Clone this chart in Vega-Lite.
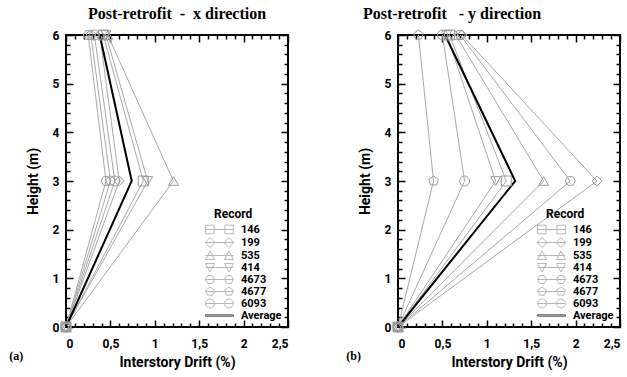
{
  "$schema": "https://vega.github.io/schema/vega-lite/v6.json",
  "padding": {"left": 8, "top": 5, "right": 5, "bottom": 3},
  "background": "white",
  "config": {
    "view": {"stroke": "black", "strokeWidth": 2},
    "axis": {"domain": false, "grid": false, "tickColor": "black", "tickWidth": 1.5, "labelColor": "black", "titleColor": "black",
      "labelFont": "Roboto", "titleFont": "Roboto",
      "labelFontWeight": "bold", "titleFontWeight": "bold", "labelFontSize": 12, "titleFontSize": 14},
    "legend": {"orient": "bottom-right", "offset": 6, "padding": 0, "rowPadding": -1, "labelOffset": 16, "symbolSize": 81, "symbolStrokeWidth": 1,
      "labelFont": "Roboto", "labelFontWeight": "bold", "labelFontSize": 11, "labelColor": "black",
      "titleFont": "Roboto", "titleFontWeight": "bold", "titleFontSize": 12, "titleColor": "black", "titlePadding": 3},
    "title": {"font": "Liberation Serif", "fontSize": 16, "fontWeight": "bold", "color": "black", "offset": 6}
  },
  "datasets": {
    "xdir": [
      {"Record": "146", "Drift": 0, "Height": 0}, {"Record": "146", "Drift": 0.87, "Height": 3}, {"Record": "146", "Drift": 0.42, "Height": 6},
      {"Record": "199", "Drift": 0, "Height": 0}, {"Record": "199", "Drift": 0.6, "Height": 3}, {"Record": "199", "Drift": 0.38, "Height": 6},
      {"Record": "535", "Drift": 0, "Height": 0}, {"Record": "535", "Drift": 1.21, "Height": 3}, {"Record": "535", "Drift": 0.47, "Height": 6},
      {"Record": "414", "Drift": 0, "Height": 0}, {"Record": "414", "Drift": 0.92, "Height": 3}, {"Record": "414", "Drift": 0.45, "Height": 6},
      {"Record": "4673", "Drift": 0, "Height": 0}, {"Record": "4673", "Drift": 0.45, "Height": 3}, {"Record": "4673", "Drift": 0.25, "Height": 6},
      {"Record": "4677", "Drift": 0, "Height": 0}, {"Record": "4677", "Drift": 0.5, "Height": 3}, {"Record": "4677", "Drift": 0.28, "Height": 6},
      {"Record": "6093", "Drift": 0, "Height": 0}, {"Record": "6093", "Drift": 0.55, "Height": 3}, {"Record": "6093", "Drift": 0.32, "Height": 6},
      {"Record": "Average", "Drift": 0, "Height": 0}, {"Record": "Average", "Drift": 0.74, "Height": 3}, {"Record": "Average", "Drift": 0.38, "Height": 6}
    ],
    "ydir": [
      {"Record": "146", "Drift": 0, "Height": 0}, {"Record": "146", "Drift": 1.22, "Height": 3}, {"Record": "146", "Drift": 0.58, "Height": 6},
      {"Record": "199", "Drift": 0, "Height": 0}, {"Record": "199", "Drift": 2.24, "Height": 3}, {"Record": "199", "Drift": 0.72, "Height": 6},
      {"Record": "535", "Drift": 0, "Height": 0}, {"Record": "535", "Drift": 1.64, "Height": 3}, {"Record": "535", "Drift": 0.65, "Height": 6},
      {"Record": "414", "Drift": 0, "Height": 0}, {"Record": "414", "Drift": 1.1, "Height": 3}, {"Record": "414", "Drift": 0.55, "Height": 6},
      {"Record": "4673", "Drift": 0, "Height": 0}, {"Record": "4673", "Drift": 1.94, "Height": 3}, {"Record": "4673", "Drift": 0.7, "Height": 6},
      {"Record": "4677", "Drift": 0, "Height": 0}, {"Record": "4677", "Drift": 0.4, "Height": 3}, {"Record": "4677", "Drift": 0.23, "Height": 6},
      {"Record": "6093", "Drift": 0, "Height": 0}, {"Record": "6093", "Drift": 0.75, "Height": 3}, {"Record": "6093", "Drift": 0.5, "Height": 6},
      {"Record": "Average", "Drift": 0, "Height": 0}, {"Record": "Average", "Drift": 1.32, "Height": 3}, {"Record": "Average", "Drift": 0.53, "Height": 6}
    ],
    "tagA": [{"label": "(a)"}],
    "tagB": [{"label": "(b)"}]
  },
  "spacing": 55,
  "resolve": {"scale": {"color": "independent", "shape": "independent"}, "legend": {"color": "independent", "shape": "independent"}},
  "hconcat": [
    {
      "width": 222, "height": 292,
      "title": {"text": "Post-retrofit\u00a0\u00a0-\u00a0\u00a0x direction"},
      "data": {"name": "xdir"},
      "resolve": {"axis": {"x": "independent", "y": "independent"}, "scale": {"shape": "independent", "color": "independent"}},
      "layer": [
        {
          "transform": [{"filter": "datum.Record !== 'Average'"}],
          "mark": {"type": "line", "color": "#a8a8a8", "strokeWidth": 1},
          "encoding": {
            "x": {"field": "Drift", "type": "quantitative", "scale": {"domain": [0, 2.5], "nice": false, "zero": false},
              "axis": {"orient": "bottom", "values": [0, 0.5, 1, 1.5, 2, 2.5], "format": "~g", "labelExpr": "replace(datum.label, '.', ',')", "tickSize": -7, "labelPadding": 18, "title": "Interstory Drift (%)", "titlePadding": 6}},
            "y": {"field": "Height", "type": "quantitative", "scale": {"domain": [0, 6], "nice": false, "zero": false},
              "axis": {"orient": "left", "values": [0, 1, 2, 3, 4, 5, 6], "tickSize": -7, "labelPadding": 14, "title": "Height (m)", "titlePadding": 12}},
            "detail": {"field": "Record"},
            "order": {"field": "Height"}
          }
        },
        {
          "transform": [{"filter": "datum.Record === 'Average'"}],
          "mark": {"type": "line", "color": "black", "strokeWidth": 2},
          "encoding": {
            "x": {"field": "Drift", "type": "quantitative", "axis": {"orient": "top", "values": [0, 0.5, 1, 1.5, 2, 2.5], "tickSize": -7, "labels": false, "title": null}},
            "y": {"field": "Height", "type": "quantitative", "axis": {"orient": "right", "values": [0, 1, 2, 3, 4, 5, 6], "tickSize": -7, "labels": false, "title": null}},
            "order": {"field": "Height"}
          }
        },
        {
          "transform": [{"filter": "datum.Record !== 'Average'"}],
          "mark": {"type": "point", "filled": false, "color": "#9a9a9a", "size": 100, "strokeWidth": 1, "opacity": 1},
          "encoding": {
            "x": {"field": "Drift", "type": "quantitative", "axis": {"orient": "bottom", "values": [0.1,0.2,0.3,0.4,0.6,0.7,0.8,0.9,1.1,1.2,1.3,1.4,1.6,1.7,1.8,1.9,2.1,2.2,2.3,2.4], "tickSize": -4, "labels": false, "title": null}},
            "y": {"field": "Height", "type": "quantitative", "axis": {"orient": "left", "values": [0.2,0.4,0.6,0.8,1.2,1.4,1.6,1.8,2.2,2.4,2.6,2.8,3.2,3.4,3.6,3.8,4.2,4.4,4.6,4.8,5.2,5.4,5.6,5.8], "tickSize": -4, "labels": false, "title": null}},
            "shape": {"field": "Record", "type": "nominal",
              "scale": {"domain": ["146", "199", "535", "414", "4673", "4677", "6093"],
                "range": ["square", "diamond", "triangle-up", "triangle-down", "M-1,0L-0.5,-0.866L0.5,-0.866L1,0L0.5,0.866L-0.5,0.866Z", "M0,-1L0.951,-0.309L0.588,0.809L-0.588,0.809L-0.951,-0.309Z", "circle"]},
              "legend": null}
          }
        },
        {
          "transform": [{"filter": "false"}],
          "mark": {"type": "point", "filled": false, "size": 81, "strokeWidth": 1},
          "encoding": {
            "x": {"field": "Drift", "type": "quantitative", "axis": {"orient": "top", "values": [0.1,0.2,0.3,0.4,0.6,0.7,0.8,0.9,1.1,1.2,1.3,1.4,1.6,1.7,1.8,1.9,2.1,2.2,2.3,2.4], "tickSize": -4, "labels": false, "title": null}},
            "y": {"field": "Height", "type": "quantitative", "axis": {"orient": "right", "values": [0.2,0.4,0.6,0.8,1.2,1.4,1.6,1.8,2.2,2.4,2.6,2.8,3.2,3.4,3.6,3.8,4.2,4.4,4.6,4.8,5.2,5.4,5.6,5.8], "tickSize": -4, "labels": false, "title": null}},
            "shape": {"field": "Record", "type": "nominal",
              "scale": {"domain": ["146", "199", "535", "414", "4673", "4677", "6093", "Average"],
                "range": [
                  "M-3.1,-0.95H-1.2V0.95H-3.1Z M1.2,-0.95H3.1V0.95H1.2Z M-3.1,0H3.1",
                  "M-3.2,0L-2.1,-1.1L-1,0L-2.1,1.1Z M1,0L2.1,-1.1L3.2,0L2.1,1.1Z M-3.2,0H3.2",
                  "M-3.1,0.9L-2.1,-1L-1.1,0.9Z M1.1,0.9L2.1,-1L3.1,0.9Z M-3.1,0H3.1",
                  "M-3.1,-0.9L-1.1,-0.9L-2.1,1Z M1.1,-0.9L3.1,-0.9L2.1,1Z M-3.1,0H3.1",
                  "M-3.1,0L-2.6,-0.87L-1.6,-0.87L-1.1,0L-1.6,0.87L-2.6,0.87Z M1.1,0L1.6,-0.87L2.6,-0.87L3.1,0L2.6,0.87L1.6,0.87Z M-3.1,0H3.1",
                  "M-2.1,-1L-1.149,-0.309L-1.512,0.809L-2.688,0.809L-3.051,-0.309Z M2.1,-1L3.051,-0.309L2.688,0.809L1.512,0.809L1.149,-0.309Z M-3.1,0H3.1",
                  "M-1.1,0A1,1 0 1,1 -3.1,0A1,1 0 1,1 -1.1,0Z M3.1,0A1,1 0 1,1 1.1,0A1,1 0 1,1 3.1,0Z M-3.1,0H3.1",
                  "M-3.1,-0.15H3.1V0.15H-3.1Z"
                ]},
              "legend": {"title": "Record"}},
            "color": {"field": "Record", "type": "nominal",
              "scale": {"domain": ["146", "199", "535", "414", "4673", "4677", "6093", "Average"],
                "range": ["#9a9a9a", "#9a9a9a", "#9a9a9a", "#9a9a9a", "#9a9a9a", "#9a9a9a", "#9a9a9a", "black"]},
              "legend": {"title": "Record"}}
          }
        },
        {
          "data": {"name": "tagA"},
          "mark": {"type": "text", "font": "Liberation Serif", "fontWeight": "bold", "fontSize": 12, "align": "center", "baseline": "middle", "color": "black"},
          "encoding": {
            "x": {"datum": -0.56, "type": "quantitative", "axis": null},
            "y": {"datum": -0.6, "type": "quantitative", "axis": null},
            "text": {"field": "label"}
          }
        }
      ]
    },
    {
      "width": 222, "height": 292,
      "title": {"text": "Post-retrofit\u00a0\u00a0\u00a0-\u00a0y direction", "dx": -57},
      "data": {"name": "ydir"},
      "resolve": {"axis": {"x": "independent", "y": "independent"}, "scale": {"shape": "independent", "color": "independent"}},
      "layer": [
        {
          "transform": [{"filter": "datum.Record !== 'Average'"}],
          "mark": {"type": "line", "color": "#a8a8a8", "strokeWidth": 1},
          "encoding": {
            "x": {"field": "Drift", "type": "quantitative", "scale": {"domain": [0, 2.5], "nice": false, "zero": false},
              "axis": {"orient": "bottom", "values": [0, 0.5, 1, 1.5, 2, 2.5], "format": "~g", "labelExpr": "replace(datum.label, '.', ',')", "tickSize": -7, "labelPadding": 18, "title": "Interstory Drift (%)", "titlePadding": 6}},
            "y": {"field": "Height", "type": "quantitative", "scale": {"domain": [0, 6], "nice": false, "zero": false},
              "axis": {"orient": "left", "values": [0, 1, 2, 3, 4, 5, 6], "tickSize": -7, "labelPadding": 14, "title": "Height (m)", "titlePadding": 12}},
            "detail": {"field": "Record"},
            "order": {"field": "Height"}
          }
        },
        {
          "transform": [{"filter": "datum.Record === 'Average'"}],
          "mark": {"type": "line", "color": "black", "strokeWidth": 2},
          "encoding": {
            "x": {"field": "Drift", "type": "quantitative", "axis": {"orient": "top", "values": [0, 0.5, 1, 1.5, 2, 2.5], "tickSize": -7, "labels": false, "title": null}},
            "y": {"field": "Height", "type": "quantitative", "axis": {"orient": "right", "values": [0, 1, 2, 3, 4, 5, 6], "tickSize": -7, "labels": false, "title": null}},
            "order": {"field": "Height"}
          }
        },
        {
          "transform": [{"filter": "datum.Record !== 'Average'"}],
          "mark": {"type": "point", "filled": false, "color": "#9a9a9a", "size": 100, "strokeWidth": 1, "opacity": 1},
          "encoding": {
            "x": {"field": "Drift", "type": "quantitative", "axis": {"orient": "bottom", "values": [0.1,0.2,0.3,0.4,0.6,0.7,0.8,0.9,1.1,1.2,1.3,1.4,1.6,1.7,1.8,1.9,2.1,2.2,2.3,2.4], "tickSize": -4, "labels": false, "title": null}},
            "y": {"field": "Height", "type": "quantitative", "axis": {"orient": "left", "values": [0.2,0.4,0.6,0.8,1.2,1.4,1.6,1.8,2.2,2.4,2.6,2.8,3.2,3.4,3.6,3.8,4.2,4.4,4.6,4.8,5.2,5.4,5.6,5.8], "tickSize": -4, "labels": false, "title": null}},
            "shape": {"field": "Record", "type": "nominal",
              "scale": {"domain": ["146", "199", "535", "414", "4673", "4677", "6093"],
                "range": ["square", "diamond", "triangle-up", "triangle-down", "M-1,0L-0.5,-0.866L0.5,-0.866L1,0L0.5,0.866L-0.5,0.866Z", "M0,-1L0.951,-0.309L0.588,0.809L-0.588,0.809L-0.951,-0.309Z", "circle"]},
              "legend": null}
          }
        },
        {
          "transform": [{"filter": "false"}],
          "mark": {"type": "point", "filled": false, "size": 81, "strokeWidth": 1},
          "encoding": {
            "x": {"field": "Drift", "type": "quantitative", "axis": {"orient": "top", "values": [0.1,0.2,0.3,0.4,0.6,0.7,0.8,0.9,1.1,1.2,1.3,1.4,1.6,1.7,1.8,1.9,2.1,2.2,2.3,2.4], "tickSize": -4, "labels": false, "title": null}},
            "y": {"field": "Height", "type": "quantitative", "axis": {"orient": "right", "values": [0.2,0.4,0.6,0.8,1.2,1.4,1.6,1.8,2.2,2.4,2.6,2.8,3.2,3.4,3.6,3.8,4.2,4.4,4.6,4.8,5.2,5.4,5.6,5.8], "tickSize": -4, "labels": false, "title": null}},
            "shape": {"field": "Record", "type": "nominal",
              "scale": {"domain": ["146", "199", "535", "414", "4673", "4677", "6093", "Average"],
                "range": [
                  "M-3.1,-0.95H-1.2V0.95H-3.1Z M1.2,-0.95H3.1V0.95H1.2Z M-3.1,0H3.1",
                  "M-3.2,0L-2.1,-1.1L-1,0L-2.1,1.1Z M1,0L2.1,-1.1L3.2,0L2.1,1.1Z M-3.2,0H3.2",
                  "M-3.1,0.9L-2.1,-1L-1.1,0.9Z M1.1,0.9L2.1,-1L3.1,0.9Z M-3.1,0H3.1",
                  "M-3.1,-0.9L-1.1,-0.9L-2.1,1Z M1.1,-0.9L3.1,-0.9L2.1,1Z M-3.1,0H3.1",
                  "M-3.1,0L-2.6,-0.87L-1.6,-0.87L-1.1,0L-1.6,0.87L-2.6,0.87Z M1.1,0L1.6,-0.87L2.6,-0.87L3.1,0L2.6,0.87L1.6,0.87Z M-3.1,0H3.1",
                  "M-2.1,-1L-1.149,-0.309L-1.512,0.809L-2.688,0.809L-3.051,-0.309Z M2.1,-1L3.051,-0.309L2.688,0.809L1.512,0.809L1.149,-0.309Z M-3.1,0H3.1",
                  "M-1.1,0A1,1 0 1,1 -3.1,0A1,1 0 1,1 -1.1,0Z M3.1,0A1,1 0 1,1 1.1,0A1,1 0 1,1 3.1,0Z M-3.1,0H3.1",
                  "M-3.1,-0.15H3.1V0.15H-3.1Z"
                ]},
              "legend": {"title": "Record"}},
            "color": {"field": "Record", "type": "nominal",
              "scale": {"domain": ["146", "199", "535", "414", "4673", "4677", "6093", "Average"],
                "range": ["#9a9a9a", "#9a9a9a", "#9a9a9a", "#9a9a9a", "#9a9a9a", "#9a9a9a", "#9a9a9a", "black"]},
              "legend": {"title": "Record"}}
          }
        },
        {
          "data": {"name": "tagB"},
          "mark": {"type": "text", "font": "Liberation Serif", "fontWeight": "bold", "fontSize": 12, "align": "center", "baseline": "middle", "color": "black"},
          "encoding": {
            "x": {"datum": -0.5, "type": "quantitative", "axis": null},
            "y": {"datum": -0.6, "type": "quantitative", "axis": null},
            "text": {"field": "label"}
          }
        }
      ]
    }
  ]
}
